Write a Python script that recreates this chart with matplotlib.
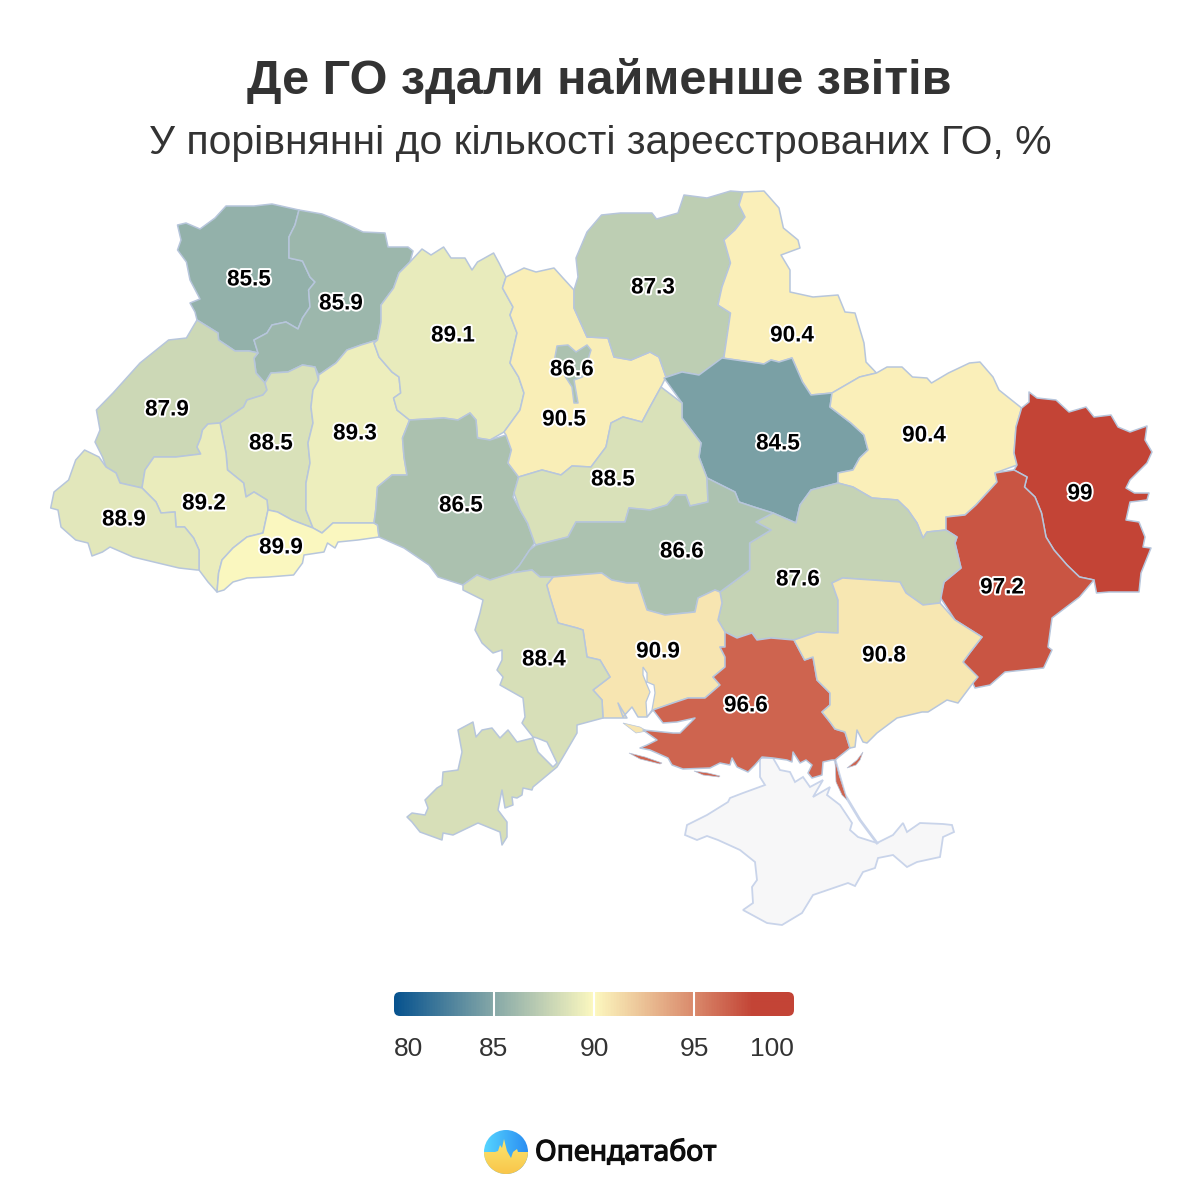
import numpy as np
import matplotlib
matplotlib.use("Agg")
import matplotlib.pyplot as plt
from matplotlib.colors import LinearSegmentedColormap, Normalize
from matplotlib.patches import Polygon, FancyBboxPatch, Circle
import matplotlib.patheffects as pe

TITLE = "Де ГО здали найменше звітів"
SUBTITLE = "У порівнянні до кількості зареєстрованих ГО, %"
BRAND = "Опендатабот"

regions = ["Волинська", "Рівненська", "Львівська", "Тернопільська", "Хмельницька", "Житомирська",
           "Івано-Франківська", "Закарпатська", "Чернівецька", "Вінницька", "Київська", "Київ",
           "Чернігівська", "Сумська", "Полтавська", "Харківська", "Луганська", "Донецька",
           "Дніпропетровська", "Черкаська", "Кіровоградська", "Миколаївська", "Одеська",
           "Херсонська", "Запорізька"]
values = [85.5, 85.9, 87.9, 88.5, 89.3, 89.1, 89.2, 88.9, 89.9, 86.5, 90.5, 86.6,
          87.3, 90.4, 84.5, 90.4, 99, 97.2, 87.6, 88.5, 86.6, 90.9, 88.4, 96.6, 90.8]
label_xy = [(249, 280), (341, 304), (167, 410), (271, 444), (355, 434), (453, 336),
            (204, 504), (124, 520), (281, 548), (461, 506), (564, 420), (572, 370),
            (653, 288), (792, 336), (778, 444), (924, 436), (1080, 494), (1002, 588),
            (798, 580), (613, 480), (682, 552), (658, 652), (544, 660), (746, 706), (884, 656)]
legend_ticks = [80, 85, 90, 95, 100]

shapes = {
"Волинська": [(177.5,225),(186,223),(200,229),(215,218),(226,206),(254,206),(272,204),(299,210),(295,225),(289,237),(289,258),(302.5,261),(310,277),(315,282),(308.6,290),(310,307),(302.5,318),(298,329),(286,322),(272,325),(267,333),(254,340),(258,353),(249,351),(235,351),(218.6,340),(218,333),(197,320),(195,312),(190,303),(200,299),(190,280),(186.4,262),(177.5,250),(181,240)],
"Рівненська": [(299,210),(322,214),(342,222),(363,232),(385,233),(388,247),(408,247),(413,251),(410,262),(399,273),(393.6,288),(381,305),(381,322),(377.5,340),(361,345),(347,350),(336,363),(318.6,375),(315,367),(302.5,365),(288,372),(271,373),(265,383),(256,373),(254,358),(258,353),(254,340),(267,333),(272,325),(286,322),(298,329),(302.5,318),(310,307),(308.6,290),(315,282),(310,277),(302.5,261),(289,258),(289,237),(295,225)],
"Львівська": [(197,320),(218,333),(218.6,340),(235,351),(249,351),(258,353),(254,358),(256,373),(265,383),(267,390),(263,395),(247,400),(243.6,407),(220,423),(208,424),(202.5,430),(200.7,438),(197,447),(200.7,454),(176,457),(154,457),(145,470),(142,488),(120,483),(116,473),(106,467),(102.5,457),(95,442),(100,430),(96.4,410),(113,393),(140,363),(168.6,340),(186.4,338)],
"Тернопільська": [(265,383),(271,373),(288,372),(302.5,365),(315,367),(318.6,380),(313,390),(311,407),(313,423),(308,443),(310,463),(306,483),(306,510),(313,528),(292,520),(277.5,512),(268,510),(267,500),(254,492),(246,497),(243.6,483),(227.5,470),(226,453),(220,423),(243.6,407),(247,400),(263,395),(267,390)],
"Хмельницька": [(318.6,375),(336,363),(347,350),(361,345),(377.5,340),(374,343),(379,357),(392,372),(399,377),(400.7,393),(393.6,398),(397,410),(409.6,420),(402.5,438),(404,457),(407,475),(392,475),(377.5,487),(375.7,510),(374,523),(368.6,523),(333,523),(322,533),(313,528),(306,510),(306,483),(310,463),(308,443),(313,423),(311,407),(313,390),(318.6,380)],
"Житомирська": [(374,343),(377.5,340),(381,322),(381,305),(393.6,288),(399,273),(410,262),(422,249),(431,255),(443.6,247),(451,258),(465,258),(472,270),(477.5,262),(493.6,253),(499,263),(506,277),(502.5,288),(513,307),(510,315),(517,333),(510,363),(518.6,377),(524,393),(520,410),(504,432),(490,440),(477.5,438),(476,420),(470,413),(458,420),(443.6,418),(409.6,420),(397,410),(393.6,398),(400.7,393),(399,377),(392,372),(379,357)],
"Івано-Франківська": [(142,488),(145,470),(154,457),(176,457),(200.7,454),(197,447),(200.7,438),(202.5,430),(208,424),(220,423),(226,453),(227.5,470),(243.6,483),(246,497),(254,492),(267,500),(268,510),(263,533),(247,537),(233,548),(222,560),(218.6,573),(217,592),(208,582),(199,570),(199,550),(193.6,538),(184.6,527),(176,527),(175,512),(161,513),(156,502)],
"Закарпатська": [(50.7,508),(54,492),(68.6,480),(75.7,460),(84.6,450),(99,457),(106,467),(116,473),(120,483),(142,488),(156,502),(161,513),(175,512),(176,527),(184.6,527),(193.6,538),(199,550),(199,570),(197,570),(179,568),(158,563),(133,557),(110,547),(102.5,552),(92,556),(88,543),(75.7,540),(61,527),(58,510)],
"Чернівецька": [(217,592),(218.6,573),(222,560),(233,548),(247,537),(263,533),(268,510),(277.5,512),(292,520),(313,528),(322,533),(333,523),(368.6,523),(374,523),(377.5,525),(379,537),(358,540),(338,542),(335,548),(327.5,543),(324,552),(304,555),(302.5,563),(293.6,575),(268.6,577),(247,578),(233,582),(224,590)],
"Вінницька": [(409.6,420),(443.6,418),(458,420),(470,413),(476,420),(477.5,438),(490,440),(506,435),(511.4,450),(508,463),(518.6,477),(513,497),(520,510),(527.5,523),(534.6,543),(529.6,550),(519,566),(513,573),(490,580),(477,575),(463,585),(438,577),(429,565),(404,548),(379,537),(377.5,525),(374,523),(375.7,510),(377.5,487),(392,475),(407,475),(404,457),(402.5,438)],
"Київська": [(506,277),(524,268),(536,272),(554,268),(563,278),(574,290),(574,308),(587,337),(608,338),(614,357),(631,360),(650,352),(659,357),(666,377),(661,387),(650,407),(642,422),(623,417),(611,423),(606,447),(591,467),(572,466),(561,475),(542,470),(518.6,477),(508,463),(511.4,450),(506,435),(504,432),(520,410),(524,393),(518.6,377),(510,363),(517,333),(510,315),(513,307),(502.5,288)],
"Київ": [(555,357),(557,346),(568,345),(576,352),(587,345),(591,350),(587,363),(582.5,377),(574,380),(578,403),(574,403),(572,387),(563,373),(555,363)],
"Чернігівська": [(574,290),(578,277),(576,258),(587,232),(601.5,215),(620.5,213),(652,213),(656.5,219),(678,213),(684,195),(707,198),(730.5,191),(743,192),(739,205),(745,217),(735,230),(724,240),(730.5,263),(722,287),(718,305),(730.5,313),(724,357),(707,373),(699,375),(682,372),(666,377),(659,357),(650,352),(631,360),(614,357),(608,338),(587,337),(574,308)],
"Сумська": [(743,192),(764,191),(779,208),(783.4,228),(798,240),(800,248),(781,255),(790,270),(790,292),(813,297),(838,295),(845,312),(855,313),(864,343),(866,362),(876.5,373),(859.6,377),(832,393),(811,395),(802.5,382),(792,358),(779,362),(771,360),(764,364),(722,358),(724,357),(730.5,313),(718,305),(722,287),(730.5,263),(724,240),(735,230),(745,217),(739,205)],
"Полтавська": [(664,378),(682,372),(699,375),(722,358),(764,364),(771,360),(779,362),(792,358),(802.5,382),(811,395),(832,393),(830,407),(851,423),(864,435),(868,450),(859.6,458),(853,470),(838,473),(838,483),(811,490),(800,505),(796,523),(773,513),(754,507),(739,502),(735,492),(707,478),(699,457),(701,443),(682,418),(682,403)],
"Харківська": [(832,393),(859.6,377),(876.5,373),(887,367),(902,367),(912.5,377),(927,378),(931.5,383),(948.4,373),(969.5,363),(980,362),(993,377),(999,390),(1021.6,408),(1016,427),(1014,453),(1017,465),(995,473),(997,482),(976,505),(965,515),(946,517),(946,530),(927,532),(923,538),(917,523),(908,510),(897.6,500),(872,498),(853,487),(838,483),(838,473),(853,470),(859.6,458),(868,450),(864,435),(851,423),(830,407)],
"Луганська": [(1029,392),(1037,398),(1056,400),(1069,412),(1086,407),(1094,417),(1111,415),(1118,427),(1130,432),(1147,426),(1145,440),(1152,452),(1147,463),(1130,480),(1126,488),(1134.5,493),(1149,493),(1147,500),(1130,502),(1126,520),(1139,522),(1145,537),(1143,547),(1151,548),(1141,573),(1139,592),(1109,592),(1096.5,593),(1094,580),(1079.5,577),(1067,565),(1054,550),(1046,537),(1041.5,513),(1035,497),(1024.5,487),(1027,477),(1014,470),(1017,465),(1014,453),(1016,427),(1021.6,408),(1029,402)],
"Донецька": [(995,473),(1014,470),(1027,477),(1024.5,487),(1035,497),(1041.5,513),(1046,537),(1054,550),(1067,565),(1079.5,577),(1094,580),(1079.5,597),(1052,618),(1048,647),(1052,650),(1043.6,668),(1005,672),(990,685),(975,688),(963,662),(969.6,653),(982,637),(955,620),(940,597),(944,582),(961,568),(955,543),(957,537),(946,530),(946,517),(965,515),(976,505),(997,482)],
"Дніпропетровська": [(749.6,543),(771,530),(756,522),(773,513),(796,523),(800,505),(811,490),(838,483),(853,487),(872,498),(897.6,500),(908,510),(917,523),(923,538),(927,532),(946,530),(957,537),(955,543),(961,568),(944,582),(940,603),(923,605),(906,593),(900,582),(872,580),(842.6,578),(832,583),(838,600),(838,633),(817,632),(794,640),(771,638),(757,640),(752,633),(737,638),(725,632),(718,620),(722,603),(720,592),(749.6,570)],
"Черкаська": [(514,493),(518.6,477),(542,470),(561,475),(572,466),(591,467),(606,447),(611,423),(623,417),(642,422),(650,407),(661,387),(682,403),(682,418),(701,443),(699,457),(707,478),(708,502),(690,506),(686,495),(675.5,495),(667,505),(650,510),(629,508),(625,522),(601.5,522),(576,522),(568,537),(536,545),(534.6,543),(527.5,523),(520,510)],
"Кіровоградська": [(536,545),(568,537),(576,522),(601.5,522),(625,522),(629,508),(650,510),(667,505),(675.5,495),(686,495),(690,506),(708,502),(707,478),(735,492),(739,502),(754,507),(773,513),(756,522),(771,530),(749.6,543),(749.6,570),(720,592),(715,590),(698,598),(695,612),(665,615),(647,610),(638,583),(627,583),(611.7,580),(601.7,573),(577,575),(553,577),(540,577),(532,570),(512,573),(519,566),(529.6,550)],
"Миколаївська": [(546.7,585),(553,577),(577,575),(601.7,573),(611.7,580),(627,583),(638,583),(647,610),(665,615),(695,612),(698,598),(715,590),(720,592),(722,603),(718,620),(725,632),(725,647),(720,647),(725,657),(725,667),(713,677),(720,685),(705,698),(688,698),(673,703),(653,710),(647,717),(638,717),(632,707),(623,717),(618,703),(627,718),(603,718),(602,700),(593,690),(610,677),(600,660),(587,657),(583,630),(577,628),(558,623),(550,597)],
"Одеська": [(463,585),(477,575),(490,580),(512,573),(532,570),(540,577),(553,577),(546.7,585),(550,597),(558,623),(577,628),(583,630),(587,657),(600,660),(610,677),(593,690),(602,700),(603,718),(577,725),(577,733),(563,757),(557,767),(533,787),(532,790),(523,788),(522,795),(517,798),(512,797),(513,805),(505,808),(502,790),(498,810),(507,822),(507,837),(502,845),(500,832),(478,823),(453,835),(443,833),(442,840),(420,832),(412,822),(407,817),(412,813),(425,815),(428,808),(425,800),(437,788),(442,785),(443,772),(458,770),(462,752),(458,730),(473,722),(476,737),(482,730),(492,728),(500,738),(508,730),(517,742),(533,738),(538,752),(553,767),(557,763),(547,742),(537,738),(533,737),(522,723),(525,717),(523,698),(500,685),(503,677),(497,670),(502,660),(502,650),(493,653),(482,643),(475,630),(480,613),(483,600),(463,590)],
"Херсонська": [(725,632),(737,638),(752,633),(757,640),(771,638),(794,640),(804.6,660),(813,657),(817,680),(830,693),(830,705),(822,712),(830,722),(835,729),(845,732),(850,748),(835,760),(832,760),(823,762),(822,775),(812,778),(808,773),(812,765),(806,760),(800,763),(793,752),(792,762),(787,760),(773,758),(762,757),(755,765),(748,772),(737,767),(732,758),(730,765),(720,763),(710,768),(683,769),(672,765),(668,758),(650,750),(640,748),(647,745),(657,740),(643,730),(673,733),(680,733),(695,718),(677,722),(663,723),(653,710),(673,703),(688,698),(705,698),(720,685),(713,677),(725,667),(725,657),(720,647),(725,647)],
"Запорізька": [(794,640),(817,632),(838,633),(838,600),(832,583),(842.6,578),(872,580),(900,582),(906,593),(923,605),(940,603),(955,620),(982,637),(969.6,653),(963,662),(978,677),(973,683),(958,703),(947,700),(928,712),(922,712),(897,718),(877,733),(867,743),(863,742),(857,730),(855,747),(850,748),(845,732),(835,729),(830,722),(822,712),(830,705),(830,693),(817,680),(813,657),(804.6,660)],
}
islands = {
"Херсонська": [[(629,753),(645,757),(662,763),(660,764),(640,759)],
               [(694,771),(708,773),(720,776),(719,777),(703,775)],
               [(835,760),(839,775),(847,800),(842,795),(836,782)],
               [(847,768),(857,760),(863,752),(860,760),(856,765)]],
"Миколаївська": [[(623,723),(640,727),(647,731),(636,733)]],
}
crimea = [(760,758),(773,758),(780,770),(790,772),(795,782),(803,777),(810,787),(823,780),(813,797),(830,787),(827,795),(840,805),(852,823),(850,830),(858,837),(877,843),(893,835),(903,823),(907,832),(920,823),(943,824),(952,825),(954,832),(943,837),(940,857),(917,862),(907,867),(893,855),(878,858),(875,868),(863,872),(855,886),(848,883),(813,895),(802,913),(782,925),(767,923),(743,910),(753,903),(752,887),(757,880),(755,862),(740,850),(718,840),(707,836),(697,840),(685,835),(687,825),(707,815),(728,802),(730,798),(743,793),(765,785),(760,777)]
arabat = [(835,760),(845,795),(860,820),(877,843)]
estuary = [(643,667),(647,673),(647,682),(654,685),(655,693),(652,710),(647,717),(646,702),(650,692),(647,685),(643,675)]

cmap = LinearSegmentedColormap.from_list("go", [(0, "#08538f"), (0.25, "#87a9a8"), (0.5, "#fdf9c0"),
                                               (0.75, "#da8a6c"), (0.9, "#c34436"), (1, "#c34436")])
norm = Normalize(80, 100)
EDGE = "#b7c6dc"
TXT = "#333333"

plt.rcParams["font.family"] = ["Liberation Sans", "DejaVu Sans"]
fig = plt.figure(figsize=(12, 12), dpi=100, facecolor="white")
ax = fig.add_axes([0, 0, 1, 1])

ax.text(599, 81, TITLE, ha="center", va="center", fontsize=35, fontweight="bold", color=TXT)
ax.text(600, 143, SUBTITLE, ha="center", va="center", fontsize=29.4, color=TXT)

ax.add_patch(Polygon(crimea, closed=True, fc="#f7f7f8", ec="#c9d4ea", lw=1.3, zorder=1))
ax.plot(*zip(*arabat), color="#c9d4ea", lw=2, zorder=1)

for name, val in zip(regions, values):
    col = cmap(norm(val))
    ax.add_patch(Polygon(shapes[name], closed=True, fc=col, ec=EDGE, lw=1.1, joinstyle="round",
                         zorder=3 if name == "Київ" else 2))
    for isl in islands.get(name, []):
        ax.add_patch(Polygon(isl, closed=True, fc=col, ec=EDGE, lw=0.5, zorder=2))
ax.add_patch(Polygon(estuary, closed=True, fc="white", ec=EDGE, lw=0.9, zorder=3))

for (x, y), val in zip(label_xy, values):
    ax.text(x, y, f"{val:g}", ha="center", va="center", fontsize=16.2, fontweight="bold", color="black", zorder=5,
            path_effects=[pe.withStroke(linewidth=2.8, foreground="white")])

# legend
x0, x1, y0, y1 = 394, 794, 992, 1016
grad = np.linspace(80, 100, 400).reshape(1, -1)
im = ax.imshow(grad, cmap=cmap, norm=norm, extent=(x0, x1, y1, y0), aspect="auto", zorder=2, interpolation="bilinear")
clip = FancyBboxPatch((x0 + 5, y0 + 5), x1 - x0 - 10, y1 - y0 - 10, boxstyle="round,pad=5,rounding_size=6",
                      fc="none", ec="none", transform=ax.transData)
ax.add_patch(clip)
im.set_clip_path(clip)
scale = lambda v: x0 + (v - 80) / 20 * (x1 - x0)
for t in legend_ticks:
    xp = scale(t)
    if t not in (80, 100):
        ax.plot([xp, xp], [y0, y1], color="white", lw=1.5, zorder=3, solid_capstyle="butt")
    ha = "left" if t == 80 else "right" if t == 100 else "center"
    ax.text(xp, 1049, str(t), ha=ha, va="center", fontsize=19, color=TXT)

# brand mark
cx, cy, r = 506, 1152, 22
cm_blue = LinearSegmentedColormap.from_list("b", ["#55d4ff", "#2b8ef2"])
cm_yel = LinearSegmentedColormap.from_list("y", ["#fbe772", "#f9c64a"])
im1 = ax.imshow(np.linspace(0, 1, 50).reshape(1, -1), cmap=cm_blue, extent=(cx - r, cx + r, cy + r, cy - r), aspect="auto", zorder=2)
c1 = Circle((cx, cy), r, transform=ax.transData, fc="none", ec="none")
ax.add_patch(c1)
im1.set_clip_path(c1)
pulse = [(484, 1152), (495, 1152), (498, 1151), (500, 1145), (502, 1148), (504, 1139), (507, 1151), (511, 1158),
         (513, 1152), (517, 1149), (518, 1152), (528, 1152)]
ang = np.linspace(0, np.pi, 40)
arc = list(zip(cx + r * np.cos(ang), cy + r * np.sin(ang)))
im2 = ax.imshow(np.linspace(0, 1, 50).reshape(-1, 1), cmap=cm_yel, extent=(cx - r, cx + r, cy + r, cy - 14), aspect="auto", zorder=3)
p2 = Polygon(pulse + arc, closed=True, transform=ax.transData, fc="none", ec="none")
ax.add_patch(p2)
im2.set_clip_path(p2)
ax.text(535, 1153, BRAND, ha="left", va="center", fontsize=20.5, family=["Noto Sans", "DejaVu Sans"], color="#0d0d0d",
        path_effects=[pe.withStroke(linewidth=0.9, foreground="#0d0d0d")])

ax.set_xlim(0, 1200)
ax.set_ylim(1200, 0)
ax.axis("off")
fig.savefig("out.png", dpi=100, facecolor="white")
